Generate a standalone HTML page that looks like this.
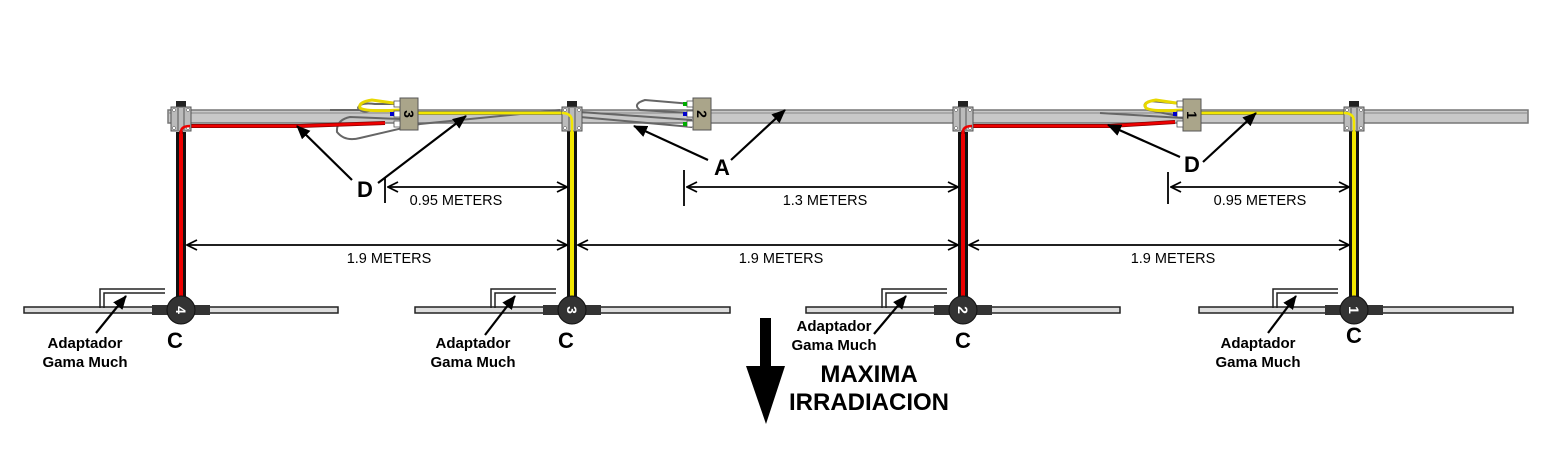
<!DOCTYPE html>
<html><head><meta charset="utf-8"><style>
body{margin:0;background:#fff}
svg{display:block}
text{font-family:"Liberation Sans",Arial,sans-serif}
</style></head><body>
<svg width="1562" height="473" viewBox="0 0 1562 473" xmlns="http://www.w3.org/2000/svg">
<defs>
<marker id="oa" markerWidth="12" markerHeight="12" refX="11" refY="6" orient="auto-start-reverse" markerUnits="userSpaceOnUse">
<path d="M1,1 L11,6 L1,11" fill="none" stroke="#000" stroke-width="1.8"/></marker>
<marker id="fa" markerWidth="14" markerHeight="12" refX="13" refY="6" orient="auto" markerUnits="userSpaceOnUse">
<path d="M0,0 L14,6 L0,12 Z" fill="#000"/></marker>
<g id="clamp">
<rect x="-5" y="-8" width="10" height="7" fill="#222"/>
<rect x="-10" y="-2" width="20" height="24" fill="#bbb" stroke="#555"/>
<line x1="-3" y1="-1" x2="-3" y2="21" stroke="#555"/><line x1="3" y1="-1" x2="3" y2="21" stroke="#555"/>
<circle cx="-7" cy="1" r="1.5" fill="#fff" stroke="#555" stroke-width=".5"/><circle cx="7" cy="19" r="1.5" fill="#fff" stroke="#555" stroke-width=".5"/>
<circle cx="-7" cy="19" r="1.5" fill="#fff" stroke="#555" stroke-width=".5"/><circle cx="7" cy="1" r="1.5" fill="#fff" stroke="#555" stroke-width=".5"/>
</g>
</defs>

<!-- boom -->
<rect x="168" y="110" width="1360" height="13" fill="#c8c8c8" stroke="#777" stroke-width="1.5"/>
<line x1="168" y1="113" x2="1528" y2="113" stroke="#888" stroke-width="1"/>

<!-- phasing lines -->
<g fill="none" stroke="#666" stroke-width="2">
<path d="M400,104 L375,104 Q360,102 358,108 Q362,114 372,110 L330,110"/>
<path d="M400,119 L350,117 Q336,120 337,132 Q345,142 360,138 L420,124 L560,110"/>
<path d="M692,104 L645,100 Q632,104 640,110 L690,113"/>
<path d="M580,112 L692,120"/>
<path d="M580,117 L692,127"/>
<path d="M1183,104 L1150,101 Q1140,104 1148,110 L1183,117"/>
<path d="M1100,113 L1183,118"/>
</g>
<path d="M400,104 L372,100 Q358,102 360,108 Q366,112 400,110" fill="none" stroke="#e8d800" stroke-width="3"/>
<path d="M1183,104 L1156,100 Q1142,102 1146,108 Q1152,112 1183,110" fill="none" stroke="#e8d800" stroke-width="3"/>

<!-- feedlines vertical -->
<g stroke-linecap="butt">
<rect x="176" y="132" width="10" height="168" fill="#111"/><rect x="179" y="132" width="4" height="168" fill="#e00"/>
<rect x="567" y="128" width="10" height="172" fill="#111"/><rect x="570" y="128" width="4" height="172" fill="#f2e600"/>
<rect x="958" y="132" width="10" height="168" fill="#111"/><rect x="961" y="132" width="4" height="168" fill="#e00"/>
<rect x="1349" y="128" width="10" height="172" fill="#111"/><rect x="1352" y="128" width="4" height="172" fill="#f2e600"/>
</g>
<g fill="none">
<path d="M181,134 L181,132 Q181,126 190,126 L300,126 L385,123" stroke="#800" stroke-width="4"/>
<path d="M181,134 L181,132 Q181,126 190,126 L300,126 L385,123" stroke="#e00" stroke-width="2.5"/>
<path d="M572,130 L572,122 Q572,113 562,113 L418,113" stroke="#885" stroke-width="4"/>
<path d="M572,130 L572,122 Q572,113 562,113 L418,113" stroke="#f2e600" stroke-width="2.5"/>
<path d="M963,134 L963,132 Q963,126 972,126 L1110,126 L1175,122" stroke="#800" stroke-width="4"/>
<path d="M963,134 L963,132 Q963,126 972,126 L1110,126 L1175,122" stroke="#e00" stroke-width="2.5"/>
<path d="M1354,130 L1354,122 Q1354,113 1344,113 L1200,113" stroke="#885" stroke-width="4"/>
<path d="M1354,130 L1354,122 Q1354,113 1344,113 L1200,113" stroke="#f2e600" stroke-width="2.5"/>
</g>

<!-- clamps -->
<use href="#clamp" x="181" y="109"/>
<use href="#clamp" x="572" y="109"/>
<use href="#clamp" x="963" y="109"/>
<use href="#clamp" x="1354" y="109"/>
<g fill="none">
<path d="M181,140 L181,132 Q181,126 190,126" stroke="#e00" stroke-width="2.5"/>
<path d="M572,140 L572,122 Q572,113 562,113" stroke="#f2e600" stroke-width="2.5"/>
<path d="M963,140 L963,132 Q963,126 972,126" stroke="#e00" stroke-width="2.5"/>
<path d="M1354,140 L1354,122 Q1354,113 1344,113" stroke="#f2e600" stroke-width="2.5"/>
</g>

<!-- phasing boxes -->
<g font-weight="bold" font-size="14">
<rect x="400" y="98" width="18" height="32" fill="#aaa58a" stroke="#555"/>
<text x="409" y="119" text-anchor="middle" transform="rotate(90 409 114)">3</text>
<rect x="693" y="98" width="18" height="32" fill="#aaa58a" stroke="#555"/>
<text x="702" y="119" text-anchor="middle" transform="rotate(90 702 114)">2</text>
<rect x="1183" y="99" width="18" height="32" fill="#aaa58a" stroke="#555"/>
<text x="1192" y="120" text-anchor="middle" transform="rotate(90 1192 115)">1</text>
</g>
<g fill="#fff" stroke="#555" stroke-width=".8">
<rect x="394" y="101" width="6" height="6"/><rect x="394" y="111" width="6" height="6"/><rect x="394" y="121" width="6" height="6"/>
<rect x="687" y="101" width="6" height="6"/><rect x="687" y="111" width="6" height="6"/><rect x="687" y="121" width="6" height="6"/>
<rect x="1177" y="101" width="6" height="6"/><rect x="1177" y="111" width="6" height="6"/><rect x="1177" y="121" width="6" height="6"/>
</g>
<rect x="390" y="112" width="4" height="4" fill="#00c"/>
<rect x="683" y="102" width="4" height="4" fill="#0a0"/><rect x="683" y="112" width="4" height="4" fill="#00c"/><rect x="683" y="122" width="4" height="4" fill="#0a0"/>
<rect x="1173" y="112" width="4" height="4" fill="#00c"/>

<!-- elements -->
<g>
<rect x="24" y="307" width="314" height="6" fill="#ddd" stroke="#222" stroke-width="1.5"/>
<path d="M100,308 L100,289 L165,289 M104,308 L104,293 L165,293" fill="none" stroke="#222" stroke-width="1.5"/>
<rect x="152" y="305" width="16" height="10" fill="#333"/><rect x="194" y="305" width="16" height="10" fill="#333"/>
<circle cx="181" cy="310" r="14" fill="#333" stroke="#111"/>
<text x="181" y="315" fill="#fff" font-size="14" font-weight="bold" text-anchor="middle" transform="rotate(90 181 310)">4</text>
</g>
<g>
<rect x="415" y="307" width="315" height="6" fill="#ddd" stroke="#222" stroke-width="1.5"/>
<path d="M491,308 L491,289 L556,289 M495,308 L495,293 L556,293" fill="none" stroke="#222" stroke-width="1.5"/>
<rect x="543" y="305" width="16" height="10" fill="#333"/><rect x="585" y="305" width="16" height="10" fill="#333"/>
<circle cx="572" cy="310" r="14" fill="#333" stroke="#111"/>
<text x="572" y="315" fill="#fff" font-size="14" font-weight="bold" text-anchor="middle" transform="rotate(90 572 310)">3</text>
</g>
<g>
<rect x="806" y="307" width="314" height="6" fill="#ddd" stroke="#222" stroke-width="1.5"/>
<path d="M882,308 L882,289 L947,289 M886,308 L886,293 L947,293" fill="none" stroke="#222" stroke-width="1.5"/>
<rect x="934" y="305" width="16" height="10" fill="#333"/><rect x="976" y="305" width="16" height="10" fill="#333"/>
<circle cx="963" cy="310" r="14" fill="#333" stroke="#111"/>
<text x="963" y="315" fill="#fff" font-size="14" font-weight="bold" text-anchor="middle" transform="rotate(90 963 310)">2</text>
</g>
<g>
<rect x="1199" y="307" width="314" height="6" fill="#ddd" stroke="#222" stroke-width="1.5"/>
<path d="M1273,308 L1273,289 L1338,289 M1277,308 L1277,293 L1338,293" fill="none" stroke="#222" stroke-width="1.5"/>
<rect x="1325" y="305" width="16" height="10" fill="#333"/><rect x="1367" y="305" width="16" height="10" fill="#333"/>
<circle cx="1354" cy="310" r="14" fill="#333" stroke="#111"/>
<text x="1354" y="315" fill="#fff" font-size="14" font-weight="bold" text-anchor="middle" transform="rotate(90 1354 310)">1</text>
</g>

<!-- dimension lines -->
<g stroke="#000" stroke-width="1.8" fill="none">
<line x1="385" y1="177" x2="385" y2="203"/>
<line x1="684" y1="170" x2="684" y2="206"/>
<line x1="1168" y1="172" x2="1168" y2="204"/>
<line x1="388" y1="187" x2="567" y2="187" marker-start="url(#oa)" marker-end="url(#oa)"/>
<line x1="687" y1="187" x2="958" y2="187" marker-start="url(#oa)" marker-end="url(#oa)"/>
<line x1="1171" y1="187" x2="1349" y2="187" marker-start="url(#oa)" marker-end="url(#oa)"/>
<line x1="187" y1="245" x2="567" y2="245" marker-start="url(#oa)" marker-end="url(#oa)"/>
<line x1="578" y1="245" x2="958" y2="245" marker-start="url(#oa)" marker-end="url(#oa)"/>
<line x1="969" y1="245" x2="1349" y2="245" marker-start="url(#oa)" marker-end="url(#oa)"/>
</g>
<g font-size="14.5" text-anchor="middle">
<text x="456" y="205">0.95 METERS</text>
<text x="825" y="205">1.3 METERS</text>
<text x="1260" y="205">0.95 METERS</text>
<text x="389" y="263">1.9 METERS</text>
<text x="781" y="263">1.9 METERS</text>
<text x="1173" y="263">1.9 METERS</text>
</g>

<!-- pointer arrows -->
<g stroke="#000" stroke-width="2.2" fill="none">
<line x1="352" y1="180" x2="297" y2="126" marker-end="url(#fa)"/>
<line x1="378" y1="183" x2="466" y2="116" marker-end="url(#fa)"/>
<line x1="708" y1="160" x2="634" y2="126" marker-end="url(#fa)"/>
<line x1="731" y1="160" x2="785" y2="110" marker-end="url(#fa)"/>
<line x1="1180" y1="157" x2="1108" y2="125" marker-end="url(#fa)"/>
<line x1="1203" y1="162" x2="1256" y2="113" marker-end="url(#fa)"/>
<line x1="96" y1="333" x2="126" y2="296" marker-end="url(#fa)"/>
<line x1="485" y1="335" x2="515" y2="296" marker-end="url(#fa)"/>
<line x1="874" y1="334" x2="906" y2="296" marker-end="url(#fa)"/>
<line x1="1268" y1="333" x2="1296" y2="296" marker-end="url(#fa)"/>
</g>
<g font-size="22" font-weight="bold" text-anchor="middle">
<text x="365" y="197">D</text>
<text x="722" y="175">A</text>
<text x="1192" y="172">D</text>
<text x="175" y="348">C</text>
<text x="566" y="348">C</text>
<text x="963" y="348">C</text>
<text x="1354" y="343">C</text>
</g>
<g font-size="15" font-weight="bold" text-anchor="middle">
<text x="85" y="348">Adaptador</text><text x="85" y="367">Gama Much</text>
<text x="473" y="348">Adaptador</text><text x="473" y="367">Gama Much</text>
<text x="834" y="331">Adaptador</text><text x="834" y="350">Gama Much</text>
<text x="1258" y="348">Adaptador</text><text x="1258" y="367">Gama Much</text>
</g>

<!-- big arrow -->
<rect x="760" y="318" width="11" height="50" fill="#000"/>
<path d="M746,366 L785,366 L766,424 Z" fill="#000"/>
<g font-size="24" font-weight="bold" text-anchor="middle">
<text x="869" y="382">MAXIMA</text>
<text x="869" y="410">IRRADIACION</text>
</g>
</svg>
</body></html>
